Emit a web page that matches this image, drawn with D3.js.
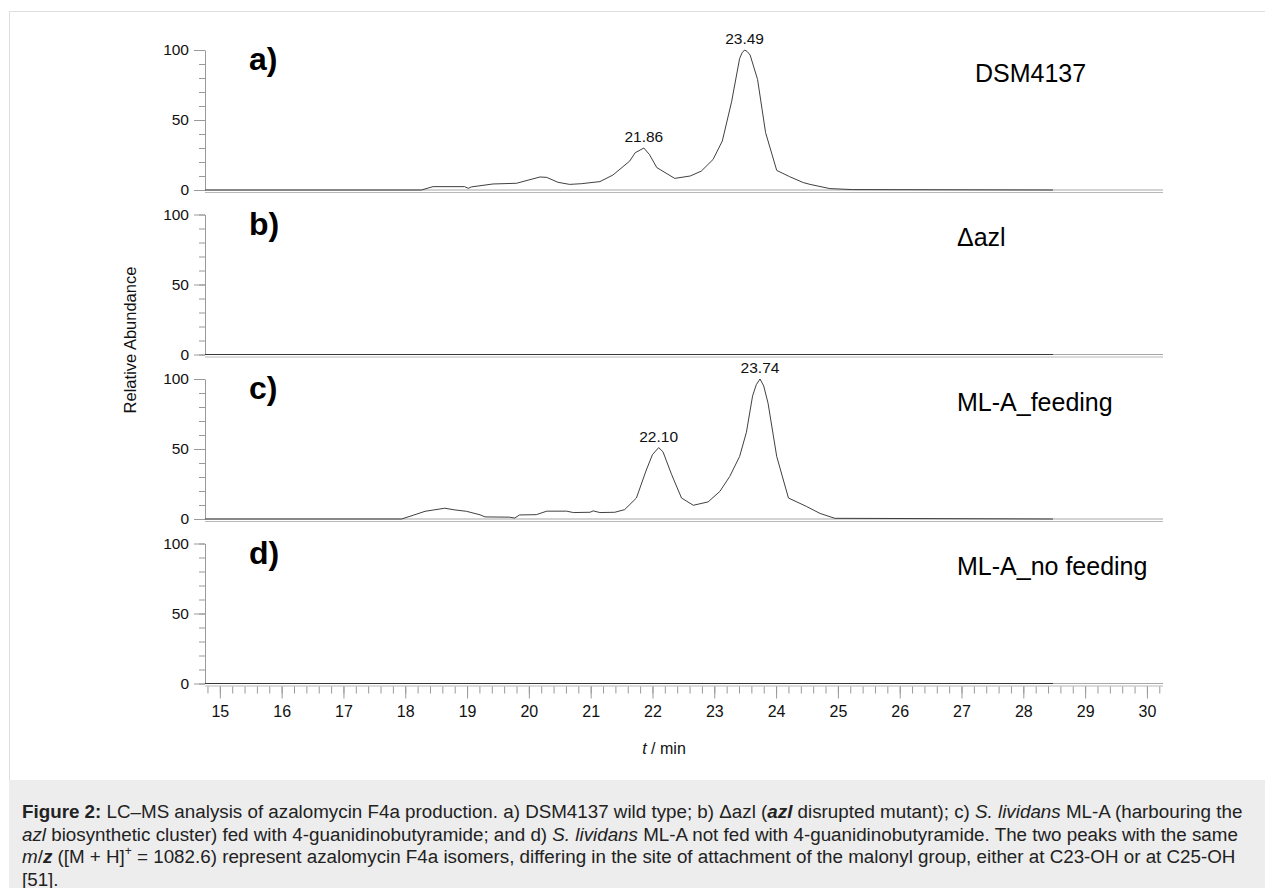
<!DOCTYPE html>
<html>
<head>
<meta charset="utf-8">
<script src="https://cdn.jsdelivr.net/npm/d3@7"></script>
<style>
  body { margin: 0; background: #fff; }
  svg { display: block; font-family: "Liberation Sans", Arial, sans-serif; }
</style>
</head>
<body>
<svg id="chart" width="1265" height="888"></svg>
<script>
// LC-MS traces, retention time (min) vs relative abundance (%)

// Panel a) DSM4137
var timeA = [14.76, 18.26, 18.45, 18.96, 19.02, 19.07, 19.42, 19.80, 20.18, 20.29,
  20.47, 20.66, 20.85, 21.15, 21.36, 21.63, 21.72, 21.86, 21.95, 22.07,
  22.36, 22.61, 22.79, 22.98, 23.13, 23.28, 23.41, 23.45, 23.49, 23.53,
  23.58, 23.70, 23.83, 24.01, 24.22, 24.44, 24.55, 24.87, 25.24, 28.48];
var intensityA = [0, 0, 2.4, 2.4, 1.2, 2.2, 4.3, 4.8, 9.3, 9.0,
  5.5, 4.0, 4.5, 6.0, 10.7, 20.6, 26.6, 30.0, 25.4, 16,
  8.3, 10, 13.5, 21.8, 35, 63, 94, 98, 100, 99,
  96.4, 79, 41, 14, 9.5, 5.3, 4.0, 1.0, 0.3, 0];
var peaksA = [21.86, 23.49];

// Panel c) ML-A_feeding
var timeC = [14.76, 17.94, 18.13, 18.32, 18.64, 18.80, 18.99, 19.21, 19.29, 19.69,
  19.77, 19.85, 20.12, 20.29, 20.61, 20.72, 20.99, 21.04, 21.15, 21.39,
  21.55, 21.74, 21.90, 22.00, 22.10, 22.17, 22.31, 22.47, 22.66, 22.90,
  23.09, 23.25, 23.41, 23.52, 23.62, 23.68, 23.74, 23.80, 23.87, 24.01,
  24.20, 24.49, 24.71, 24.95, 28.48];
var intensityC = [0, 0, 2.7, 5.5, 7.7, 6.5, 5.5, 3.0, 1.5, 1.3,
  0.7, 2.9, 3.1, 5.6, 5.6, 4.6, 4.8, 5.8, 4.6, 4.8,
  6.7, 15, 35, 46, 51, 48, 31.7, 15, 9.8, 12.2,
  19.7, 30.4, 44.7, 62, 88, 96, 100, 95, 82.7, 44.7,
  15, 9, 4, 0.5, 0];
var peaksC = [22.10, 23.74];

// Panels b) and d) show no signal
var timeFlat = [14.76, 28.48];
var intensityFlat = [0, 0];

var panelLetters = ['a)', 'b)', 'c)', 'd)'];
var panelNames = ['DSM4137', '\u0394azl', 'ML-A_feeding', 'ML-A_no feeding'];
var xTicks = [15, 16, 17, 18, 19, 20, 21, 22, 23, 24, 25, 26, 27, 28, 29, 30];
var yTicks = [0, 50, 100];

// Layout
var X_LEFT = 205, X_RIGHT = 1163;
var PANEL_TOPS = [50, 214.5, 379, 543.5];
var PANEL_HEIGHT = 140;
var AXIS_GRAY = '#9a9a9a';
var FONT = '"Liberation Sans", Arial, sans-serif';

var svg = d3.select('#chart');

// Outer frame and caption band
svg.append('rect')
  .attr('x', 9.5).attr('y', 11.5)
  .attr('width', 1270).attr('height', 780)
  .attr('fill', '#fff').attr('stroke', '#dedede');
svg.append('rect')
  .attr('x', 9).attr('y', 780)
  .attr('width', 1260).attr('height', 120)
  .attr('fill', '#ededed');

var x = d3.scaleLinear().domain([14.76, 30.26]).range([X_LEFT, X_RIGHT]);

var traces = [
  {time: timeA, value: intensityA, peaks: peaksA},
  {time: timeFlat, value: intensityFlat, peaks: []},
  {time: timeC, value: intensityC, peaks: peaksC},
  {time: timeFlat, value: intensityFlat, peaks: []}
];

traces.forEach(function(tr, i) {
  var top = PANEL_TOPS[i];
  var y = d3.scaleLinear().domain([0, 100]).range([top + PANEL_HEIGHT, top]);
  var g = svg.append('g');

  // minor y ticks every 10
  g.append('g')
    .attr('transform', 'translate(' + X_LEFT + ',0)')
    .call(d3.axisLeft(y).tickValues(d3.range(0, 101, 10)).tickSize(6).tickFormat(''))
    .call(function(s) { s.select('.domain').remove(); });

  // major y ticks with labels
  var ax = g.append('g')
    .attr('transform', 'translate(' + X_LEFT + ',0)')
    .call(d3.axisLeft(y).tickValues(yTicks).tickSize(11).tickPadding(5).tickSizeOuter(0));
  g.selectAll('.tick line').attr('stroke', AXIS_GRAY);
  ax.select('.domain').attr('stroke', AXIS_GRAY);
  ax.selectAll('text')
    .attr('font-size', 15.5).attr('fill', '#111')
    .attr('font-family', FONT);

  // double baseline of the panel
  g.append('line')
    .attr('x1', X_LEFT).attr('x2', X_RIGHT)
    .attr('y1', y(0)).attr('y2', y(0))
    .attr('stroke', '#a8a8a8').attr('stroke-width', 1.2);
  g.append('line')
    .attr('x1', X_LEFT).attr('x2', X_RIGHT)
    .attr('y1', y(0) + 2.5).attr('y2', y(0) + 2.5)
    .attr('stroke', '#b8b8b8').attr('stroke-width', 1);

  // the trace
  var pts = tr.time.map(function(t, k) { return [t, tr.value[k]]; });
  g.append('path')
    .datum(pts)
    .attr('fill', 'none')
    .attr('stroke', '#2a2a2a')
    .attr('stroke-width', 0.9)
    .attr('d', d3.line()
      .x(function(d) { return x(d[0]); })
      .y(function(d) { return y(d[1]); }));

  // peak labels
  tr.peaks.forEach(function(p) {
    var near = pts.filter(function(d) { return Math.abs(d[0] - p) < 0.1; });
    var apex = d3.max(near, function(d) { return d[1]; });
    g.append('text')
      .attr('x', x(p)).attr('y', y(apex) - 6)
      .attr('text-anchor', 'middle')
      .attr('font-size', 15.5).attr('fill', '#111')
      .text(p.toFixed(2));
  });

  // panel letter and sample name
  g.append('text')
    .attr('x', 249).attr('y', top + 20)
    .attr('font-size', 32).attr('font-weight', 'bold').attr('fill', '#000')
    .text(panelLetters[i]);
  g.append('text')
    .attr('x', i === 0 ? 975 : 957).attr('y', top + 31.5)
    .attr('font-size', 25).attr('fill', '#000')
    .text(panelNames[i]);
});

// x axis under the last panel
var xAxisY = PANEL_TOPS[3] + PANEL_HEIGHT + 3;
svg.append('g')
  .attr('transform', 'translate(0,' + xAxisY + ')')
  .call(d3.axisBottom(x).tickValues(d3.range(14.8, 30.3, 0.2)).tickSize(7).tickFormat(''))
  .call(function(s) { s.select('.domain').remove(); });
var xa = svg.append('g')
  .attr('transform', 'translate(0,' + xAxisY + ')')
  .call(d3.axisBottom(x).tickValues(xTicks).tickSize(12).tickPadding(7).tickFormat(d3.format('d')));
xa.select('.domain').remove();
svg.selectAll('.tick line').attr('stroke', AXIS_GRAY);
xa.selectAll('text')
  .attr('font-size', 16).attr('fill', '#111')
  .attr('font-family', FONT);

// axis titles
var xt = svg.append('text')
  .attr('x', 664).attr('y', 754)
  .attr('text-anchor', 'middle')
  .attr('font-size', 16).attr('fill', '#111');
xt.append('tspan').attr('font-style', 'italic').text('t');
xt.append('tspan').text(' / min');

svg.append('text')
  .attr('transform', 'translate(136,' + 340 + ') rotate(-90)')
  .attr('text-anchor', 'middle')
  .attr('font-size', 16.5).attr('fill', '#111')
  .text('Relative Abundance');

// Caption
var captionLines = [
  [['b', 'Figure 2:'], ['', ' LC\u2013MS analysis of azalomycin F4a production. a) DSM4137 wild type; b) \u0394azl ('], ['bi', 'azl'], ['', ' disrupted mutant); c) '], ['i', 'S. lividans'], ['', ' ML-A (harbouring the']],
  [['i', 'azl'], ['', ' biosynthetic cluster) fed with 4-guanidinobutyramide; and d) '], ['i', 'S. lividans'], ['', ' ML-A not fed with 4-guanidinobutyramide. The two peaks with the same']],
  [['i', 'm'], ['', '/'], ['bi', 'z'], ['', ' ([M + H]'], ['sup', '+'], ['', ' = 1082.6) represent azalomycin F4a isomers, differing in the site of attachment of the malonyl group, either at C23-OH or at C25-OH']],
  [['', '[51].']]
];
var CAPTION_Y = [818, 840.5, 863, 885.5];

captionLines.forEach(function(parts, i) {
  var t = svg.append('text')
    .attr('x', 22).attr('y', CAPTION_Y[i])
    .attr('font-size', 18.8).attr('fill', '#222');
  var lifted = false;
  parts.forEach(function(p) {
    var s = t.append('tspan').text(p[1]);
    if (p[0].indexOf('b') >= 0) s.attr('font-weight', 'bold');
    if (p[0].indexOf('i') >= 0) s.attr('font-style', 'italic');
    if (p[0] === 'sup') {
      s.attr('font-size', 12).attr('dy', -8);
      lifted = true;
    } else if (lifted) {
      s.attr('dy', 8);
      lifted = false;
    }
  });
});
</script>
</body>
</html>
